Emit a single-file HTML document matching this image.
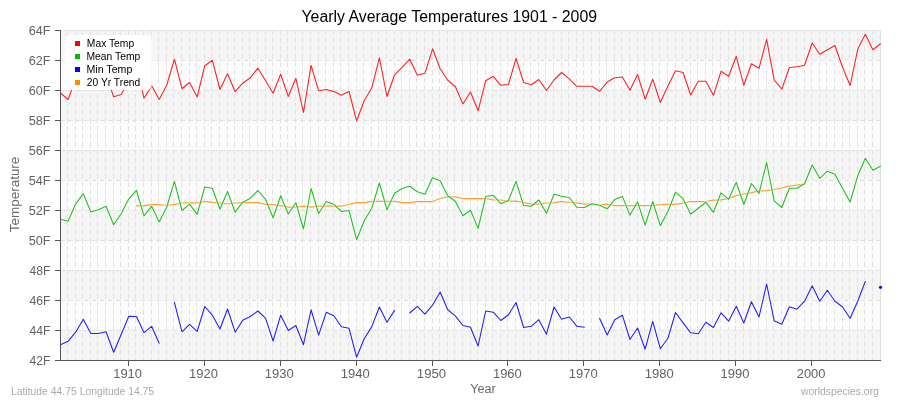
<!DOCTYPE html>
<html><head><meta charset="utf-8"><title>Yearly Average Temperatures 1901 - 2009</title>
<style>
html,body{margin:0;padding:0;background:#fff;}
body{width:900px;height:400px;overflow:hidden;position:relative;font-family:"Liberation Sans","DejaVu Sans",sans-serif;}
svg{position:absolute;left:0;top:0;display:block;will-change:transform}
text{font-family:"Liberation Sans","DejaVu Sans",sans-serif;}
</style></head><body>
<svg width="900" height="400" viewBox="0 0 900 400">
<rect x="0" y="0" width="900" height="400" fill="#fff"/>
<g shape-rendering="crispEdges">
<rect x="61" y="30" width="820" height="30" fill="#f5f5f5"/>
<rect x="61" y="60" width="820" height="30" fill="#fcfcfc"/>
<rect x="61" y="90" width="820" height="30" fill="#f5f5f5"/>
<rect x="61" y="120" width="820" height="30" fill="#fcfcfc"/>
<rect x="61" y="150" width="820" height="30" fill="#f5f5f5"/>
<rect x="61" y="180" width="820" height="30" fill="#fcfcfc"/>
<rect x="61" y="210" width="820" height="30" fill="#f5f5f5"/>
<rect x="61" y="240" width="820" height="30" fill="#fcfcfc"/>
<rect x="61" y="270" width="820" height="30" fill="#f5f5f5"/>
<rect x="61" y="300" width="820" height="30" fill="#fcfcfc"/>
<rect x="61" y="330" width="820" height="30" fill="#f5f5f5"/>
<rect x="61" y="30" width="820" height="1" fill="#e4e4e4"/>
<rect x="880" y="30" width="1" height="330" fill="#e0e0e0"/>
<path d="M67.5 30V360M75.5 30V360M82.5 30V360M90.5 30V360M97.5 30V360M105.5 30V360M113.5 30V360M120.5 30V360M128.5 30V360M135.5 30V360M143.5 30V360M151.5 30V360M158.5 30V360M166.5 30V360M173.5 30V360M181.5 30V360M189.5 30V360M196.5 30V360M204.5 30V360M211.5 30V360M219.5 30V360M227.5 30V360M234.5 30V360M242.5 30V360M249.5 30V360M257.5 30V360M265.5 30V360M272.5 30V360M280.5 30V360M287.5 30V360M295.5 30V360M302.5 30V360M310.5 30V360M318.5 30V360M325.5 30V360M333.5 30V360M340.5 30V360M348.5 30V360M356.5 30V360M363.5 30V360M371.5 30V360M378.5 30V360M386.5 30V360M394.5 30V360M401.5 30V360M409.5 30V360M416.5 30V360M424.5 30V360M432.5 30V360M439.5 30V360M447.5 30V360M454.5 30V360M462.5 30V360M470.5 30V360M477.5 30V360M485.5 30V360M492.5 30V360M500.5 30V360M507.5 30V360M515.5 30V360M523.5 30V360M530.5 30V360M538.5 30V360M545.5 30V360M553.5 30V360M561.5 30V360M568.5 30V360M576.5 30V360M583.5 30V360M591.5 30V360M599.5 30V360M606.5 30V360M614.5 30V360M621.5 30V360M629.5 30V360M637.5 30V360M644.5 30V360M652.5 30V360M659.5 30V360M667.5 30V360M675.5 30V360M682.5 30V360M690.5 30V360M697.5 30V360M705.5 30V360M712.5 30V360M720.5 30V360M728.5 30V360M735.5 30V360M743.5 30V360M750.5 30V360M758.5 30V360M766.5 30V360M773.5 30V360M781.5 30V360M788.5 30V360M796.5 30V360M804.5 30V360M811.5 30V360M819.5 30V360M826.5 30V360M834.5 30V360M842.5 30V360M849.5 30V360M857.5 30V360M864.5 30V360M872.5 30V360" stroke="#e2e2e2" stroke-width="1" stroke-dasharray="5 3" fill="none"/>
<path d="M60 60.5H880M60 90.5H880M60 120.5H880M60 150.5H880M60 180.5H880M60 210.5H880M60 240.5H880M60 270.5H880M60 300.5H880M60 330.5H880" stroke="#e2e2e2" stroke-width="1" stroke-dasharray="5 3" fill="none"/>
</g>
<clipPath id="plotclip"><rect x="60" y="28" width="821" height="334"/></clipPath>
<g clip-path="url(#plotclip)">
<path d="M136.43 205.80 L144.02 205.80 L151.61 204.70 L159.20 204.50 L166.80 205.50 L174.39 204.30 L181.98 203.00 L189.57 202.80 L197.17 202.80 L204.76 201.40 L212.35 202.30 L219.94 203.00 L227.54 204.00 L235.13 203.00 L242.72 202.70 L250.31 202.70 L257.91 202.70 L265.50 204.30 L273.09 204.70 L280.69 205.70 L288.28 207.20 L295.87 207.20 L303.46 206.30 L311.06 207.20 L318.65 206.00 L326.24 206.00 L333.83 206.00 L341.43 206.00 L349.02 204.50 L356.61 202.70 L364.20 202.70 L371.80 201.30 L379.39 201.30 L386.98 201.30 L394.57 201.30 L402.17 202.70 L409.76 202.70 L417.35 201.50 L424.94 201.50 L432.54 201.50 L440.13 198.50 L447.72 196.80 L455.31 196.80 L462.91 198.50 L470.50 198.50 L478.09 198.50 L485.69 198.50 L493.28 199.80 L500.87 200.00 L508.46 201.20 L516.06 201.20 L523.65 202.50 L531.24 204.20 L538.83 204.20 L546.43 203.00 L554.02 202.80 L561.61 201.30 L569.20 202.50 L576.80 202.80 L584.39 204.20 L591.98 204.20 L599.57 205.00 L607.17 204.20 L614.76 205.60 L622.35 205.70 L629.94 205.70 L637.54 205.70 L645.13 205.70 L652.72 205.70 L660.31 204.50 L667.91 204.30 L675.50 204.30 L683.09 203.20 L690.69 201.50 L698.28 201.50 L705.87 201.50 L713.46 200.20 L721.06 199.80 L728.65 198.70 L736.24 195.70 L743.83 194.00 L751.43 192.60 L759.02 190.90 L766.61 190.70 L774.20 189.50 L781.80 188.00 L789.39 186.20 L796.98 185.00 L804.57 183.80" fill="none" stroke="#fff" stroke-opacity="0.5" stroke-width="3" stroke-linejoin="round" stroke-linecap="round"/>
<path d="M136.43 205.80 L144.02 205.80 L151.61 204.70 L159.20 204.50 L166.80 205.50 L174.39 204.30 L181.98 203.00 L189.57 202.80 L197.17 202.80 L204.76 201.40 L212.35 202.30 L219.94 203.00 L227.54 204.00 L235.13 203.00 L242.72 202.70 L250.31 202.70 L257.91 202.70 L265.50 204.30 L273.09 204.70 L280.69 205.70 L288.28 207.20 L295.87 207.20 L303.46 206.30 L311.06 207.20 L318.65 206.00 L326.24 206.00 L333.83 206.00 L341.43 206.00 L349.02 204.50 L356.61 202.70 L364.20 202.70 L371.80 201.30 L379.39 201.30 L386.98 201.30 L394.57 201.30 L402.17 202.70 L409.76 202.70 L417.35 201.50 L424.94 201.50 L432.54 201.50 L440.13 198.50 L447.72 196.80 L455.31 196.80 L462.91 198.50 L470.50 198.50 L478.09 198.50 L485.69 198.50 L493.28 199.80 L500.87 200.00 L508.46 201.20 L516.06 201.20 L523.65 202.50 L531.24 204.20 L538.83 204.20 L546.43 203.00 L554.02 202.80 L561.61 201.30 L569.20 202.50 L576.80 202.80 L584.39 204.20 L591.98 204.20 L599.57 205.00 L607.17 204.20 L614.76 205.60 L622.35 205.70 L629.94 205.70 L637.54 205.70 L645.13 205.70 L652.72 205.70 L660.31 204.50 L667.91 204.30 L675.50 204.30 L683.09 203.20 L690.69 201.50 L698.28 201.50 L705.87 201.50 L713.46 200.20 L721.06 199.80 L728.65 198.70 L736.24 195.70 L743.83 194.00 L751.43 192.60 L759.02 190.90 L766.61 190.70 L774.20 189.50 L781.80 188.00 L789.39 186.20 L796.98 185.00 L804.57 183.80" fill="none" stroke="#ff9d2e" stroke-width="1.25" stroke-linejoin="round" stroke-linecap="round"/>
<path d="M60.50 93.00 L68.09 99.50 L75.69 79.00 L83.28 70.00 L90.87 85.00 L98.46 82.00 L106.06 75.00 L113.65 96.70 L121.24 94.50 L128.83 81.00 L136.43 64.00 L144.02 98.30 L151.61 85.80 L159.20 99.50 L166.80 85.00 L174.39 59.20 L181.98 88.70 L189.57 82.50 L197.17 97.00 L204.76 65.70 L212.35 60.30 L219.94 89.50 L227.54 73.70 L235.13 91.70 L242.72 83.20 L250.31 77.80 L257.91 68.20 L265.50 80.50 L273.09 93.30 L280.69 74.20 L288.28 96.50 L295.87 78.30 L303.46 112.50 L311.06 65.30 L318.65 90.80 L326.24 89.50 L333.83 91.50 L341.43 95.30 L349.02 91.50 L356.61 120.80 L364.20 100.70 L371.80 87.80 L379.39 57.80 L386.98 96.50 L394.57 74.80 L402.17 67.30 L409.76 59.20 L417.35 75.30 L424.94 73.30 L432.54 48.80 L440.13 68.70 L447.72 80.30 L455.31 86.50 L462.91 104.00 L470.50 92.00 L478.09 110.80 L485.69 80.80 L493.28 76.30 L500.87 85.30 L508.46 84.50 L516.06 58.30 L523.65 82.50 L531.24 84.70 L538.83 79.50 L546.43 90.50 L554.02 80.00 L561.61 72.50 L569.20 78.80 L576.80 86.30 L584.39 86.30 L591.98 86.20 L599.57 91.30 L607.17 82.00 L614.76 77.70 L622.35 77.00 L629.94 90.30 L637.54 74.50 L645.13 99.20 L652.72 79.20 L660.31 102.50 L667.91 86.00 L675.50 70.80 L683.09 72.50 L690.69 95.00 L698.28 81.30 L705.87 81.30 L713.46 95.30 L721.06 71.30 L728.65 76.30 L736.24 56.30 L743.83 85.30 L751.43 63.80 L759.02 68.30 L766.61 39.30 L774.20 80.00 L781.80 89.20 L789.39 67.50 L796.98 66.70 L804.57 65.30 L812.17 43.00 L819.76 54.30 L827.35 49.70 L834.94 45.50 L842.54 67.20 L850.13 85.50 L857.72 49.30 L865.31 34.30 L872.91 49.70 L880.50 43.80" fill="none" stroke="#fff" stroke-opacity="0.5" stroke-width="3" stroke-linejoin="round" stroke-linecap="round"/>
<path d="M60.50 93.00 L68.09 99.50 L75.69 79.00 L83.28 70.00 L90.87 85.00 L98.46 82.00 L106.06 75.00 L113.65 96.70 L121.24 94.50 L128.83 81.00 L136.43 64.00 L144.02 98.30 L151.61 85.80 L159.20 99.50 L166.80 85.00 L174.39 59.20 L181.98 88.70 L189.57 82.50 L197.17 97.00 L204.76 65.70 L212.35 60.30 L219.94 89.50 L227.54 73.70 L235.13 91.70 L242.72 83.20 L250.31 77.80 L257.91 68.20 L265.50 80.50 L273.09 93.30 L280.69 74.20 L288.28 96.50 L295.87 78.30 L303.46 112.50 L311.06 65.30 L318.65 90.80 L326.24 89.50 L333.83 91.50 L341.43 95.30 L349.02 91.50 L356.61 120.80 L364.20 100.70 L371.80 87.80 L379.39 57.80 L386.98 96.50 L394.57 74.80 L402.17 67.30 L409.76 59.20 L417.35 75.30 L424.94 73.30 L432.54 48.80 L440.13 68.70 L447.72 80.30 L455.31 86.50 L462.91 104.00 L470.50 92.00 L478.09 110.80 L485.69 80.80 L493.28 76.30 L500.87 85.30 L508.46 84.50 L516.06 58.30 L523.65 82.50 L531.24 84.70 L538.83 79.50 L546.43 90.50 L554.02 80.00 L561.61 72.50 L569.20 78.80 L576.80 86.30 L584.39 86.30 L591.98 86.20 L599.57 91.30 L607.17 82.00 L614.76 77.70 L622.35 77.00 L629.94 90.30 L637.54 74.50 L645.13 99.20 L652.72 79.20 L660.31 102.50 L667.91 86.00 L675.50 70.80 L683.09 72.50 L690.69 95.00 L698.28 81.30 L705.87 81.30 L713.46 95.30 L721.06 71.30 L728.65 76.30 L736.24 56.30 L743.83 85.30 L751.43 63.80 L759.02 68.30 L766.61 39.30 L774.20 80.00 L781.80 89.20 L789.39 67.50 L796.98 66.70 L804.57 65.30 L812.17 43.00 L819.76 54.30 L827.35 49.70 L834.94 45.50 L842.54 67.20 L850.13 85.50 L857.72 49.30 L865.31 34.30 L872.91 49.70 L880.50 43.80" fill="none" stroke="#ff2020" stroke-width="1.1" stroke-linejoin="round" stroke-linecap="round"/>
<path d="M60.50 219.20 L68.09 221.20 L75.69 203.80 L83.28 193.80 L90.87 212.00 L98.46 209.70 L106.06 206.30 L113.65 224.70 L121.24 213.50 L128.83 198.80 L136.43 190.30 L144.02 215.80 L151.61 206.20 L159.20 222.00 L166.80 207.00 L174.39 181.30 L181.98 210.50 L189.57 204.20 L197.17 214.40 L204.76 187.00 L212.35 188.20 L219.94 209.30 L227.54 191.50 L235.13 212.20 L242.72 202.20 L250.31 198.20 L257.91 190.50 L265.50 199.30 L273.09 217.70 L280.69 195.70 L288.28 214.00 L295.87 202.70 L303.46 229.00 L311.06 188.50 L318.65 213.50 L326.24 201.50 L333.83 204.30 L341.43 211.50 L349.02 210.50 L356.61 239.70 L364.20 220.70 L371.80 208.20 L379.39 183.00 L386.98 209.80 L394.57 193.20 L402.17 188.50 L409.76 186.30 L417.35 191.80 L424.94 194.30 L432.54 177.70 L440.13 180.70 L447.72 195.70 L455.31 201.30 L462.91 215.70 L470.50 210.20 L478.09 228.40 L485.69 196.50 L493.28 195.30 L500.87 203.70 L508.46 200.50 L516.06 181.30 L523.65 205.50 L531.24 206.20 L538.83 200.00 L546.43 213.30 L554.02 194.20 L561.61 196.20 L569.20 197.50 L576.80 207.20 L584.39 207.50 L591.98 203.80 L599.57 205.30 L607.17 208.80 L614.76 199.40 L622.35 196.40 L629.94 215.30 L637.54 201.80 L645.13 225.20 L652.72 201.50 L660.31 225.70 L667.91 211.50 L675.50 192.30 L683.09 198.70 L690.69 214.30 L698.28 208.20 L705.87 202.30 L713.46 212.30 L721.06 192.80 L728.65 199.30 L736.24 182.30 L743.83 204.50 L751.43 183.50 L759.02 193.40 L766.61 162.50 L774.20 200.80 L781.80 207.50 L789.39 188.30 L796.98 188.30 L804.57 183.80 L812.17 165.00 L819.76 178.30 L827.35 171.20 L834.94 174.20 L842.54 188.30 L850.13 202.00 L857.72 175.80 L865.31 158.30 L872.91 170.30 L880.50 166.20" fill="none" stroke="#fff" stroke-opacity="0.5" stroke-width="3" stroke-linejoin="round" stroke-linecap="round"/>
<path d="M60.50 219.20 L68.09 221.20 L75.69 203.80 L83.28 193.80 L90.87 212.00 L98.46 209.70 L106.06 206.30 L113.65 224.70 L121.24 213.50 L128.83 198.80 L136.43 190.30 L144.02 215.80 L151.61 206.20 L159.20 222.00 L166.80 207.00 L174.39 181.30 L181.98 210.50 L189.57 204.20 L197.17 214.40 L204.76 187.00 L212.35 188.20 L219.94 209.30 L227.54 191.50 L235.13 212.20 L242.72 202.20 L250.31 198.20 L257.91 190.50 L265.50 199.30 L273.09 217.70 L280.69 195.70 L288.28 214.00 L295.87 202.70 L303.46 229.00 L311.06 188.50 L318.65 213.50 L326.24 201.50 L333.83 204.30 L341.43 211.50 L349.02 210.50 L356.61 239.70 L364.20 220.70 L371.80 208.20 L379.39 183.00 L386.98 209.80 L394.57 193.20 L402.17 188.50 L409.76 186.30 L417.35 191.80 L424.94 194.30 L432.54 177.70 L440.13 180.70 L447.72 195.70 L455.31 201.30 L462.91 215.70 L470.50 210.20 L478.09 228.40 L485.69 196.50 L493.28 195.30 L500.87 203.70 L508.46 200.50 L516.06 181.30 L523.65 205.50 L531.24 206.20 L538.83 200.00 L546.43 213.30 L554.02 194.20 L561.61 196.20 L569.20 197.50 L576.80 207.20 L584.39 207.50 L591.98 203.80 L599.57 205.30 L607.17 208.80 L614.76 199.40 L622.35 196.40 L629.94 215.30 L637.54 201.80 L645.13 225.20 L652.72 201.50 L660.31 225.70 L667.91 211.50 L675.50 192.30 L683.09 198.70 L690.69 214.30 L698.28 208.20 L705.87 202.30 L713.46 212.30 L721.06 192.80 L728.65 199.30 L736.24 182.30 L743.83 204.50 L751.43 183.50 L759.02 193.40 L766.61 162.50 L774.20 200.80 L781.80 207.50 L789.39 188.30 L796.98 188.30 L804.57 183.80 L812.17 165.00 L819.76 178.30 L827.35 171.20 L834.94 174.20 L842.54 188.30 L850.13 202.00 L857.72 175.80 L865.31 158.30 L872.91 170.30 L880.50 166.20" fill="none" stroke="#22c022" stroke-width="1.1" stroke-linejoin="round" stroke-linecap="round"/>
<path d="M60.50 344.70 L68.09 341.30 L75.69 332.20 L83.28 319.30 L90.87 333.50 L98.46 333.50 L106.06 331.80 L113.65 352.30 L121.24 334.30 L128.83 316.30 L136.43 316.50 L144.02 332.70 L151.61 326.30 L159.20 343.20 M174.39 302.30 L181.98 331.80 L189.57 324.30 L197.17 331.30 L204.76 306.50 L212.35 315.20 L219.94 329.00 L227.54 309.00 L235.13 332.20 L242.72 320.20 L250.31 316.50 L257.91 311.00 L265.50 318.20 L273.09 341.00 L280.69 315.20 L288.28 330.50 L295.87 325.50 L303.46 344.70 L311.06 309.80 L318.65 335.20 L326.24 312.30 L333.83 315.70 L341.43 326.70 L349.02 328.30 L356.61 357.20 L364.20 338.80 L371.80 326.60 L379.39 307.00 L386.98 322.20 L394.57 310.40 M409.76 313.00 L417.35 306.30 L424.94 314.20 L432.54 305.20 L440.13 292.00 L447.72 309.70 L455.31 315.90 L462.91 325.50 L470.50 327.30 L478.09 346.00 L485.69 311.00 L493.28 312.20 L500.87 320.50 L508.46 314.70 L516.06 302.50 L523.65 327.50 L531.24 326.30 L538.83 319.70 L546.43 334.20 L554.02 307.00 L561.61 319.20 L569.20 317.00 L576.80 326.20 L584.39 327.20 M599.57 318.30 L607.17 335.00 L614.76 319.70 L622.35 315.20 L629.94 339.50 L637.54 328.00 L645.13 349.20 L652.72 321.30 L660.31 348.70 L667.91 338.30 L675.50 312.50 L683.09 322.80 L690.69 332.80 L698.28 333.70 L705.87 322.20 L713.46 327.50 L721.06 312.80 L728.65 321.20 L736.24 306.20 L743.83 323.00 L751.43 301.70 L759.02 317.00 L766.61 284.00 L774.20 320.80 L781.80 324.20 L789.39 306.70 L796.98 309.20 L804.57 301.20 L812.17 285.70 L819.76 301.20 L827.35 290.30 L834.94 301.20 L842.54 307.00 L850.13 318.20 L857.72 301.20 L865.31 281.50" fill="none" stroke="#fff" stroke-opacity="0.5" stroke-width="3" stroke-linejoin="round" stroke-linecap="round"/>
<path d="M60.50 344.70 L68.09 341.30 L75.69 332.20 L83.28 319.30 L90.87 333.50 L98.46 333.50 L106.06 331.80 L113.65 352.30 L121.24 334.30 L128.83 316.30 L136.43 316.50 L144.02 332.70 L151.61 326.30 L159.20 343.20 M174.39 302.30 L181.98 331.80 L189.57 324.30 L197.17 331.30 L204.76 306.50 L212.35 315.20 L219.94 329.00 L227.54 309.00 L235.13 332.20 L242.72 320.20 L250.31 316.50 L257.91 311.00 L265.50 318.20 L273.09 341.00 L280.69 315.20 L288.28 330.50 L295.87 325.50 L303.46 344.70 L311.06 309.80 L318.65 335.20 L326.24 312.30 L333.83 315.70 L341.43 326.70 L349.02 328.30 L356.61 357.20 L364.20 338.80 L371.80 326.60 L379.39 307.00 L386.98 322.20 L394.57 310.40 M409.76 313.00 L417.35 306.30 L424.94 314.20 L432.54 305.20 L440.13 292.00 L447.72 309.70 L455.31 315.90 L462.91 325.50 L470.50 327.30 L478.09 346.00 L485.69 311.00 L493.28 312.20 L500.87 320.50 L508.46 314.70 L516.06 302.50 L523.65 327.50 L531.24 326.30 L538.83 319.70 L546.43 334.20 L554.02 307.00 L561.61 319.20 L569.20 317.00 L576.80 326.20 L584.39 327.20 M599.57 318.30 L607.17 335.00 L614.76 319.70 L622.35 315.20 L629.94 339.50 L637.54 328.00 L645.13 349.20 L652.72 321.30 L660.31 348.70 L667.91 338.30 L675.50 312.50 L683.09 322.80 L690.69 332.80 L698.28 333.70 L705.87 322.20 L713.46 327.50 L721.06 312.80 L728.65 321.20 L736.24 306.20 L743.83 323.00 L751.43 301.70 L759.02 317.00 L766.61 284.00 L774.20 320.80 L781.80 324.20 L789.39 306.70 L796.98 309.20 L804.57 301.20 L812.17 285.70 L819.76 301.20 L827.35 290.30 L834.94 301.20 L842.54 307.00 L850.13 318.20 L857.72 301.20 L865.31 281.50" fill="none" stroke="#2020ff" stroke-width="1.1" stroke-linejoin="round" stroke-linecap="round"/>
</g>
<circle cx="880.50" cy="287.30" r="1.6" fill="#0a0aff"/>
<g shape-rendering="crispEdges" fill="#555">
<rect x="60" y="30" width="1" height="331"/>
<rect x="60" y="360" width="821" height="1"/>
<rect x="55" y="30" width="5" height="1"/>
<rect x="55" y="60" width="5" height="1"/>
<rect x="55" y="90" width="5" height="1"/>
<rect x="55" y="120" width="5" height="1"/>
<rect x="55" y="150" width="5" height="1"/>
<rect x="55" y="180" width="5" height="1"/>
<rect x="55" y="210" width="5" height="1"/>
<rect x="55" y="240" width="5" height="1"/>
<rect x="55" y="270" width="5" height="1"/>
<rect x="55" y="300" width="5" height="1"/>
<rect x="55" y="330" width="5" height="1"/>
<rect x="55" y="360" width="5" height="1"/>
<rect x="128" y="361" width="1" height="5"/>
<rect x="204" y="361" width="1" height="5"/>
<rect x="280" y="361" width="1" height="5"/>
<rect x="356" y="361" width="1" height="5"/>
<rect x="432" y="361" width="1" height="5"/>
<rect x="507" y="361" width="1" height="5"/>
<rect x="583" y="361" width="1" height="5"/>
<rect x="659" y="361" width="1" height="5"/>
<rect x="735" y="361" width="1" height="5"/>
<rect x="811" y="361" width="1" height="5"/>
</g>
<rect x="64.7" y="35" width="87" height="55" rx="5.5" ry="5.5" fill="#fff"/>
<rect x="75" y="41" width="5" height="5" fill="#ff0000" shape-rendering="crispEdges"/>
<rect x="75" y="54" width="5" height="5" fill="#00bb00" shape-rendering="crispEdges"/>
<rect x="75" y="67" width="5" height="5" fill="#0000ff" shape-rendering="crispEdges"/>
<rect x="75" y="80" width="5" height="5" fill="#ff8c00" shape-rendering="crispEdges"/>
<text id="title" x="301.49" y="21.80" font-size="16" fill="#000" textLength="295.54" lengthAdjust="spacingAndGlyphs">Yearly Average Temperatures 1901 - 2009</text>
<text id="yt0" x="28.85" y="34.80" font-size="12" fill="#626262" textLength="21.69" lengthAdjust="spacingAndGlyphs">64F</text>
<text id="yt1" x="28.85" y="64.80" font-size="12" fill="#626262" textLength="21.69" lengthAdjust="spacingAndGlyphs">62F</text>
<text id="yt2" x="28.85" y="94.80" font-size="12" fill="#626262" textLength="21.69" lengthAdjust="spacingAndGlyphs">60F</text>
<text id="yt3" x="28.74" y="124.80" font-size="12" fill="#626262" textLength="21.79" lengthAdjust="spacingAndGlyphs">58F</text>
<text id="yt4" x="28.74" y="154.80" font-size="12" fill="#626262" textLength="21.79" lengthAdjust="spacingAndGlyphs">56F</text>
<text id="yt5" x="28.74" y="184.80" font-size="12" fill="#626262" textLength="21.79" lengthAdjust="spacingAndGlyphs">54F</text>
<text id="yt6" x="28.74" y="214.80" font-size="12" fill="#626262" textLength="21.79" lengthAdjust="spacingAndGlyphs">52F</text>
<text id="yt7" x="28.74" y="244.80" font-size="12" fill="#626262" textLength="21.79" lengthAdjust="spacingAndGlyphs">50F</text>
<text id="yt8" x="29.61" y="274.80" font-size="12" fill="#626262" textLength="20.92" lengthAdjust="spacingAndGlyphs">48F</text>
<text id="yt9" x="29.61" y="304.80" font-size="12" fill="#626262" textLength="20.92" lengthAdjust="spacingAndGlyphs">46F</text>
<text id="yt10" x="29.61" y="334.80" font-size="12" fill="#626262" textLength="20.92" lengthAdjust="spacingAndGlyphs">44F</text>
<text id="yt11" x="29.61" y="364.80" font-size="12" fill="#626262" textLength="20.92" lengthAdjust="spacingAndGlyphs">42F</text>
<text id="xt1910" x="113.23" y="377.90" font-size="12" fill="#626262" textLength="28.72" lengthAdjust="spacingAndGlyphs">1910</text>
<text id="xt1920" x="189.06" y="377.90" font-size="12" fill="#626262" textLength="28.93" lengthAdjust="spacingAndGlyphs">1920</text>
<text id="xt1930" x="264.80" y="377.90" font-size="12" fill="#626262" textLength="29.00" lengthAdjust="spacingAndGlyphs">1930</text>
<text id="xt1940" x="340.76" y="377.90" font-size="12" fill="#626262" textLength="28.98" lengthAdjust="spacingAndGlyphs">1940</text>
<text id="xt1950" x="416.89" y="377.90" font-size="12" fill="#626262" textLength="29.18" lengthAdjust="spacingAndGlyphs">1950</text>
<text id="xt1960" x="492.91" y="377.90" font-size="12" fill="#626262" textLength="28.89" lengthAdjust="spacingAndGlyphs">1960</text>
<text id="xt1970" x="568.84" y="377.90" font-size="12" fill="#626262" textLength="28.86" lengthAdjust="spacingAndGlyphs">1970</text>
<text id="xt1980" x="644.74" y="377.90" font-size="12" fill="#626262" textLength="29.02" lengthAdjust="spacingAndGlyphs">1980</text>
<text id="xt1990" x="720.62" y="377.90" font-size="12" fill="#626262" textLength="28.76" lengthAdjust="spacingAndGlyphs">1990</text>
<text id="xt2000" x="796.75" y="377.90" font-size="12" fill="#626262" textLength="28.74" lengthAdjust="spacingAndGlyphs">2000</text>
<text id="year" x="470.17" y="392.80" font-size="12" fill="#6a6a6a" textLength="25.51" lengthAdjust="spacingAndGlyphs">Year</text>
<text id="temp" transform="translate(19.00,232.17) rotate(-90)" font-size="12" fill="#6a6a6a" textLength="75.51" lengthAdjust="spacingAndGlyphs">Temperature</text>
<text id="lat" x="10.94" y="394.80" font-size="10.4" fill="#aaa" textLength="143.18" lengthAdjust="spacingAndGlyphs">Latitude 44.75 Longitude 14.75</text>
<text id="ws" x="800.99" y="394.70" font-size="10.4" fill="#aaa" textLength="77.88" lengthAdjust="spacingAndGlyphs">worldspecies.org</text>
<text id="lg0" x="86.85" y="47.20" font-size="10" fill="#000" textLength="47.32" lengthAdjust="spacingAndGlyphs">Max Temp</text>
<text id="lg1" x="86.52" y="60.20" font-size="10" fill="#000" textLength="53.70" lengthAdjust="spacingAndGlyphs">Mean Temp</text>
<text id="lg2" x="86.48" y="73.20" font-size="10" fill="#000" textLength="45.83" lengthAdjust="spacingAndGlyphs">Min Temp</text>
<text id="lg3" x="86.89" y="86.20" font-size="10" fill="#000" textLength="53.40" lengthAdjust="spacingAndGlyphs">20 Yr Trend</text>
</svg>
</body></html>
